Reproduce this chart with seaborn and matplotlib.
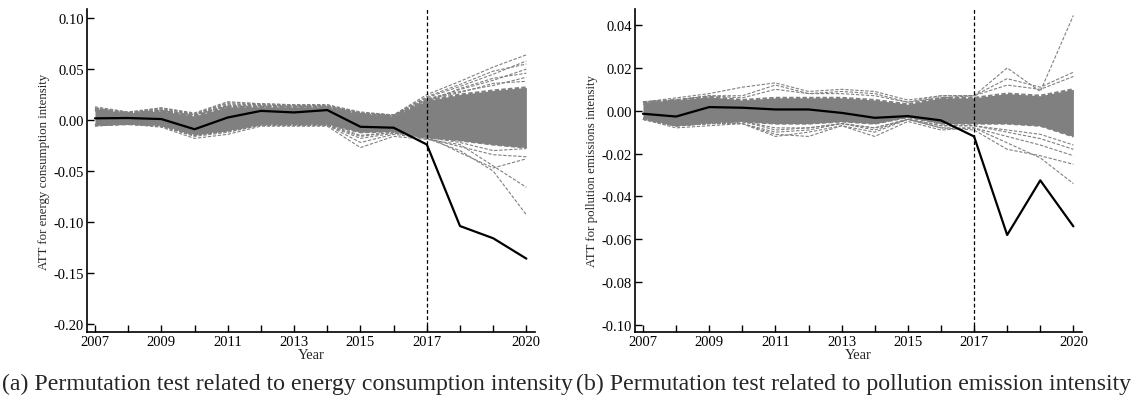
import numpy as np
import pandas as pd
import matplotlib
matplotlib.use("Agg")
import matplotlib.pyplot as plt
import seaborn as sns

sns.set_style("white")
plt.rcParams['font.family'] = 'serif'
plt.rcParams['font.serif'] = ['Liberation Serif', 'DejaVu Serif']
plt.rcParams['mathtext.fontset'] = 'custom'

years = [2007, 2008, 2009, 2010, 2011, 2012, 2013, 2014, 2015, 2016, 2017, 2018, 2019, 2020]
treat_year = 2017

# ---- Panel (a): energy consumption intensity ----
energy_att = [0.0017, 0.002, 0.001, -0.009, 0.0025, 0.009, 0.0075, 0.0098, -0.0066, -0.0075, -0.024, -0.104, -0.116, -0.136]
energy_band_hi = [0.011, 0.007, 0.009, 0.004, 0.013, 0.013, 0.013, 0.013, 0.006, 0.004, 0.019, 0.025, 0.029, 0.032]
energy_band_lo = [-0.005, -0.004, -0.005, -0.014, -0.010, -0.004, -0.004, -0.004, -0.012, -0.011, -0.017, -0.020, -0.024, -0.027]
energy_p1 = [0.013, 0.008, 0.012, 0.007, 0.018, 0.016, 0.015, 0.015, 0.008, 0.005, 0.025, 0.038, 0.052, 0.064]
energy_p2 = [0.012, 0.007, 0.011, 0.006, 0.016, 0.015, 0.014, 0.014, 0.007, 0.005, 0.022, 0.033, 0.045, 0.058]
energy_p3 = [0.010, 0.006, 0.010, 0.005, 0.014, 0.014, 0.014, 0.013, 0.006, 0.004, 0.020, 0.030, 0.039, 0.050]
energy_p4 = [0.009, 0.006, 0.009, 0.005, 0.013, 0.013, 0.013, 0.013, 0.006, 0.004, 0.021, 0.028, 0.034, 0.042]
energy_p10 = [0.011, 0.007, 0.012, 0.006, 0.017, 0.016, 0.015, 0.015, 0.007, 0.005, 0.023, 0.035, 0.048, 0.055]
energy_p11 = [0.010, 0.006, 0.010, 0.005, 0.015, 0.015, 0.014, 0.014, 0.006, 0.004, 0.018, 0.031, 0.041, 0.046]
energy_p12 = [0.009, 0.006, 0.009, 0.005, 0.014, 0.014, 0.014, 0.013, 0.006, 0.004, 0.020, 0.027, 0.036, 0.038]
energy_p5 = [-0.006, -0.004, -0.007, -0.018, -0.014, -0.006, -0.006, -0.006, -0.027, -0.016, -0.019, -0.024, -0.045, -0.066]
energy_p6 = [-0.005, -0.004, -0.006, -0.016, -0.012, -0.005, -0.005, -0.005, -0.022, -0.014, -0.018, -0.030, -0.050, -0.093]
energy_p7 = [-0.005, -0.004, -0.006, -0.015, -0.011, -0.005, -0.005, -0.005, -0.018, -0.013, -0.016, -0.032, -0.047, -0.038]
energy_p8 = [-0.005, -0.004, -0.006, -0.015, -0.011, -0.005, -0.005, -0.005, -0.016, -0.012, -0.018, -0.026, -0.034, -0.036]
energy_p9 = [-0.004, -0.004, -0.005, -0.014, -0.010, -0.004, -0.004, -0.004, -0.015, -0.012, -0.017, -0.022, -0.030, -0.028]

# ---- Panel (b): pollution emissions intensity ----
pollution_att = [-0.0014, -0.0027, 0.0017, 0.0014, 0.0006, 0.0006, -0.001, -0.0033, -0.0025, -0.0045, -0.012, -0.058, -0.0325, -0.054]
pollution_band_hi = [0.004, 0.005, 0.0065, 0.005, 0.006, 0.006, 0.006, 0.005, 0.003, 0.006, 0.006, 0.008, 0.007, 0.010]
pollution_band_lo = [-0.0035, -0.007, -0.0055, -0.005, -0.006, -0.006, -0.005, -0.006, -0.003, -0.006, -0.006, -0.006, -0.007, -0.012]
pollution_p1 = [0.004, 0.006, 0.008, 0.011, 0.013, 0.009, 0.010, 0.009, 0.005, 0.007, 0.007, 0.020, 0.009, 0.0445]
pollution_p2 = [0.004, 0.005, 0.007, 0.007, 0.012, 0.008, 0.009, 0.008, 0.004, 0.007, 0.007, 0.015, 0.011, 0.018]
pollution_p3 = [0.003, 0.005, 0.007, 0.006, 0.010, 0.008, 0.008, 0.007, 0.004, 0.006, 0.007, 0.012, 0.010, 0.016]
pollution_p4 = [-0.004, -0.008, -0.007, -0.006, -0.012, -0.010, -0.007, -0.012, -0.005, -0.009, -0.008, -0.015, -0.022, -0.034]
pollution_p5 = [-0.004, -0.007, -0.006, -0.006, -0.011, -0.012, -0.007, -0.010, -0.004, -0.008, -0.009, -0.018, -0.021, -0.025]
pollution_p6 = [-0.004, -0.007, -0.006, -0.006, -0.010, -0.009, -0.006, -0.009, -0.004, -0.008, -0.008, -0.012, -0.016, -0.021]
pollution_p7 = [-0.004, -0.007, -0.006, -0.005, -0.009, -0.008, -0.006, -0.008, -0.004, -0.007, -0.007, -0.010, -0.013, -0.018]
pollution_p8 = [-0.004, -0.007, -0.006, -0.005, -0.008, -0.008, -0.006, -0.008, -0.004, -0.007, -0.007, -0.009, -0.011, -0.016]

xticks = [2007, 2009, 2011, 2013, 2015, 2017, 2020]
energy_yticks = [0.10, 0.05, 0.00, -0.05, -0.10, -0.15, -0.20]
pollution_yticks = [0.04, 0.02, 0.00, -0.02, -0.04, -0.06, -0.08, -0.10]

GREY = "#808080"
SERIF = ['Liberation Serif', 'DejaVu Serif']

fig = plt.figure(figsize=(11.4, 4.02), dpi=100)
ax1 = fig.add_axes([87 / 1140, 1 - 333 / 402, (535 - 87) / 1140, (333 - 10) / 402])
ax2 = fig.add_axes([635 / 1140, 1 - 333 / 402, (1082 - 635) / 1140, (333 - 10) / 402])


def draw(ax, att, hi, lo, placebos, yticks, ylim, ylabel):
    ax.fill_between(years, lo, hi, color=GREY, linewidth=0, zorder=1)
    for edge in (hi, lo):
        ax.plot(years, edge, color=GREY, lw=1.6, ls=(0, (2, 1)), zorder=1)
    for p in placebos:
        df = pd.DataFrame({"year": years, "v": p})
        sns.lineplot(data=df, x="year", y="v", ax=ax, color=GREY, lw=0.8,
                     linestyle=(0, (3, 1.5)), zorder=1)
    df = pd.DataFrame({"year": years, "att": att})
    sns.lineplot(data=df, x="year", y="att", ax=ax, color="black", lw=1.6, zorder=3)
    ax.axvline(treat_year, color="black", lw=0.9, ls=(0, (3, 2)), zorder=2)
    ax.set_xlim(2006.76, 2020.26)
    ax.set_ylim(*ylim)
    ax.set_xticks(years)
    ax.set_xticklabels([str(y) if y in xticks else "" for y in years], family=SERIF)
    ax.set_yticks(yticks)
    ax.set_yticklabels(["{:.2f}".format(v).replace("-0.00", "0.00") for v in yticks], family=SERIF)
    ax.tick_params(axis="both", direction="in", length=5, width=1, labelsize=10.5,
                   colors="black", bottom=True, left=True, pad=2)
    ax.tick_params(axis="x", pad=2)
    for s in ["top", "right"]:
        ax.spines[s].set_visible(False)
    for s in ["left", "bottom"]:
        ax.spines[s].set_color("black")
        ax.spines[s].set_linewidth(1.2)
    ax.set_xlabel("Year", fontsize=10.5, labelpad=0, family=SERIF)
    ax.set_ylabel(ylabel, fontsize=9.3, labelpad=3, family=SERIF)
    ax.grid(False)


draw(ax1, energy_att, energy_band_hi, energy_band_lo,
     [energy_p1, energy_p2, energy_p3, energy_p4, energy_p10, energy_p11, energy_p12,
      energy_p5, energy_p6, energy_p7, energy_p8, energy_p9],
     energy_yticks, (-0.208, 0.109), "ATT for energy consumption intensity")
draw(ax2, pollution_att, pollution_band_hi, pollution_band_lo,
     [pollution_p1, pollution_p2, pollution_p3, pollution_p4, pollution_p5, pollution_p6, pollution_p7, pollution_p8],
     pollution_yticks, (-0.1033, 0.0475), "ATT for pollution emissions intensity")

fig.text(2 / 1140, 1 - 384 / 402, "(a) Permutation test related to energy consumption intensity",
         fontsize=17.2, ha="left", va="center", family=SERIF)
fig.text(576 / 1140, 1 - 384 / 402, "(b) Permutation test related to pollution emission intensity",
         fontsize=17.2, ha="left", va="center", family=SERIF)

fig.savefig("out.png", dpi=100)
